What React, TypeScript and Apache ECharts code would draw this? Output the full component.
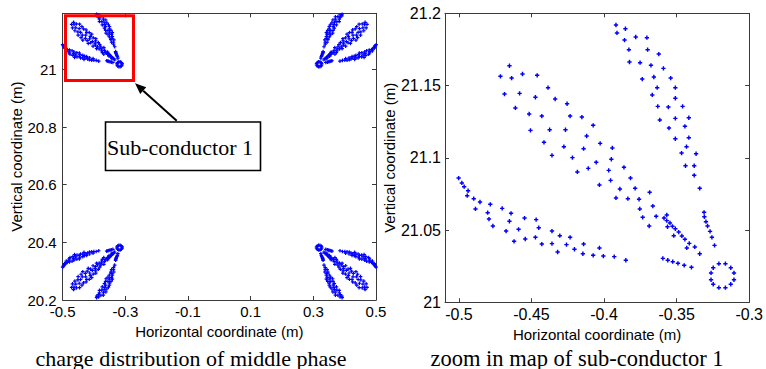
import React, { useEffect, useRef } from "react";
import * as echarts from "echarts";

// ---- data: charge points of sub-conductor 1 (m) ----
const petalTop: [number, number][] = [
  [-0.3918, 21.1919], [-0.3853, 21.1893], [-0.3911, 21.1864], [-0.3859, 21.1815], [-0.3782, 21.1836],
  [-0.3705, 21.1831], [-0.3829, 21.1748], [-0.37, 21.1748], [-0.3623, 21.1718], [-0.3825, 21.1663],
  [-0.3752, 21.1658], [-0.3677, 21.164], [-0.3591, 21.1619], [-0.3737, 21.1545], [-0.3657, 21.1559],
  [-0.3541, 21.1552], [-0.3634, 21.1485], [-0.3509, 21.1485], [-0.3668, 21.1435], [-0.3509, 21.1412],
  [-0.363, 21.1356], [-0.3557, 21.1351], [-0.3459, 21.1356], [-0.3616, 21.1262], [-0.3509, 21.1273],
  [-0.3416, 21.1277], [-0.3553, 21.1206], [-0.3443, 21.1218], [-0.3509, 21.1132], [-0.3416, 21.1139],
  [-0.3432, 21.1077], [-0.3466, 21.1033], [-0.3366, 21.1028], [-0.3439, 21.0945], [-0.3379, 21.0945],
  [-0.3379, 21.0879], [-0.3341, 21.0789],
];
const petalMiddle: [number, number][] = [
  [-0.4652, 21.1637], [-0.4714, 21.1564], [-0.4637, 21.1552], [-0.4562, 21.158], [-0.4461, 21.1571],
  [-0.4686, 21.1441], [-0.4582, 21.1446], [-0.4473, 21.1419], [-0.4386, 21.1485], [-0.4337, 21.1407],
  [-0.4255, 21.1374], [-0.4611, 21.1345], [-0.4516, 21.1303], [-0.4429, 21.1289], [-0.4234, 21.1289],
  [-0.4153, 21.1282], [-0.4075, 21.1225], [-0.4507, 21.119], [-0.4375, 21.1194], [-0.4266, 21.1194],
  [-0.412, 21.1151], [-0.4027, 21.11], [-0.4414, 21.1107], [-0.4277, 21.1077], [-0.4141, 21.1063],
  [-0.4359, 21.1017], [-0.4218, 21.1001], [-0.4054, 21.0969], [-0.3943, 21.1068], [-0.395, 21.099],
  [-0.4109, 21.0927], [-0.4184, 21.0902], [-0.4032, 21.0812], [-0.3968, 21.0913], [-0.3863, 21.0934],
  [-0.3955, 21.0844], [-0.3818, 21.086], [-0.3891, 21.0784], [-0.3786, 21.0789], [-0.3918, 21.0722],
  [-0.3836, 21.0717], [-0.3759, 21.0713], [-0.3686, 21.0761], [-0.3754, 21.0646], [-0.3664, 21.0666],
  [-0.3734, 21.0588], [-0.3641, 21.0595], [-0.3689, 21.0528],
];
const petalInner: [number, number][] = [
  [-0.3568, 21.0604], [-0.3587, 21.0583], [-0.3568, 21.0565], [-0.3563, 21.0523], [-0.3546, 21.0549],
  [-0.3529, 21.0526], [-0.3509, 21.0509], [-0.3486, 21.0486], [-0.352, 21.0461], [-0.3464, 21.0459],
  [-0.3443, 21.0436], [-0.3413, 21.0408], [-0.343, 21.0376], [-0.3375, 21.0383], [-0.3341, 21.0336],
];
const petalSmall: [number, number][] = [
  [-0.3311, 21.0623], [-0.3309, 21.0592], [-0.3298, 21.0558], [-0.3287, 21.0528], [-0.327, 21.0491],
  [-0.3257, 21.045], [-0.3239, 21.0394],
];
const petalLower: [number, number][] = [
  [-0.5002, 21.086], [-0.498, 21.0826], [-0.4964, 21.08], [-0.4937, 21.0772], [-0.4943, 21.0738],
  [-0.4898, 21.0717], [-0.4855, 21.0694], [-0.4886, 21.0646], [-0.4784, 21.0678], [-0.4802, 21.062],
  [-0.4793, 21.0576], [-0.4766, 21.0528], [-0.4702, 21.065], [-0.4641, 21.0616], [-0.4652, 21.0561],
  [-0.4675, 21.0493], [-0.4589, 21.0505], [-0.462, 21.0422], [-0.4548, 21.0583], [-0.4543, 21.0438],
  [-0.4468, 21.0572], [-0.445, 21.0516], [-0.4473, 21.045], [-0.4359, 21.0493], [-0.4429, 21.0403],
  [-0.4359, 21.0406], [-0.4305, 21.0461], [-0.432, 21.0348], [-0.4234, 21.045], [-0.4259, 21.0399],
  [-0.4141, 21.0403], [-0.4204, 21.0367], [-0.4032, 21.0376], [-0.4146, 21.0336], [-0.4075, 21.0325],
  [-0.4005, 21.032], [-0.393, 21.0316], [-0.385, 21.0291],
];
const bottomRow: [number, number][] = [
  [-0.3595, 21.0304], [-0.3561, 21.0291], [-0.3527, 21.0281], [-0.3491, 21.027], [-0.3448, 21.0256],
  [-0.3398, 21.0242],
];
const conductorRing: [number, number][] = [
  [-0.3209, 21.0267], [-0.3164, 21.0267], [-0.3127, 21.0239], [-0.3105, 21.0203], [-0.3105, 21.0156],
  [-0.3127, 21.0125], [-0.3164, 21.0101], [-0.3209, 21.0101], [-0.3248, 21.0125], [-0.3263, 21.0156],
  [-0.3263, 21.0203], [-0.3248, 21.0239],
];

// symmetry of the 4-bundle of the middle phase (bundle centre)
const bundleCentreX = 0;
const bundleCentreY = 20.7;

// ticks
const leftXTicks = [-0.5, -0.3, -0.1, 0.1, 0.3, 0.5];
const leftYTicks = [20.2, 20.4, 20.6, 20.8, 21];
const rightXTicks = [-0.5, -0.45, -0.4, -0.35, -0.3];
const rightYTicks = [21, 21.05, 21.1, 21.15, 21.2];

const captionLeft = "charge distribution of middle phase";
const captionRight = "zoom in map of sub-conductor 1";
const boxLabel = "Sub-conductor 1";
const xName = "Horizontal coordinate (m)";
const yName = "Vertical coordinate (m)";

const sub1 = [
  ...petalTop, ...petalMiddle, ...petalInner, ...petalSmall, ...petalLower, ...bottomRow, ...conductorRing,
];
const mirrorX = (p: [number, number]) => [2 * bundleCentreX - p[0], p[1]];
const mirrorY = (p: [number, number]) => [p[0], 2 * bundleCentreY - p[1]];
const allSub = [
  ...sub1,
  ...sub1.map(mirrorX),
  ...sub1.map(mirrorY),
  ...sub1.map((p) => mirrorY(mirrorX(p) as [number, number])),
];

const BLUE = "#0000ff";
const AX = "#3a3a3a";
const SANS = "Liberation Sans, Arial, sans-serif";
const SERIF = "Liberation Serif, 'Times New Roman', serif";
const PLUS = "path://M2 0h2v2h2v2h-2v2h-2v-2h-2v-2h2z";

function axisPair(
  kind: "x" | "y",
  gridIndex: number,
  min: number,
  max: number,
  ticks: number[],
  fontSize: number,
  margin: number,
  name: string,
  nameGap: number
) {
  const base = {
    type: "value" as const,
    gridIndex,
    min,
    max,
    scale: true,
    axisLine: { show: true, onZero: false, lineStyle: { color: AX, width: 1 } },
    axisTick: { show: true, inside: true, length: 4, customValues: ticks, lineStyle: { color: AX } },
    splitLine: { show: false },
  };
  const main = {
    ...base,
    position: kind === "x" ? "bottom" : "left",
    name,
    nameLocation: "middle",
    nameGap,
    nameTextStyle: { fontFamily: SANS, fontSize: 15, color: "#000" },
    axisLabel: {
      show: true,
      customValues: ticks,
      margin,
      fontFamily: SANS,
      fontSize,
      color: "#000",
      formatter: (v: number) => String(+v.toFixed(3)),
    },
  };
  const opp = {
    ...base,
    position: kind === "x" ? "top" : "right",
    axisLabel: { show: false, customValues: ticks },
  };
  return [main, opp];
}

export default function App() {
  const ref = useRef<HTMLDivElement>(null);
  useEffect(() => {
    if (!ref.current) return;
    const chart = echarts.init(ref.current, undefined, { renderer: "svg" });
    const lx = axisPair("x", 0, -0.5, 0.5, leftXTicks, 15, 4, xName, 22);
    const ly = axisPair("y", 0, 20.2, 21.195, leftYTicks, 15, 6, yName, 39);
    const rx = axisPair("x", 1, -0.5096, -0.3, rightXTicks, 16, 4, xName, 21);
    const ry = axisPair("y", 1, 21, 21.2, rightYTicks, 16, 4, yName, 43);
    chart.setOption({
      animation: false,
      backgroundColor: "#fff",
      grid: [
        { left: 62.7, top: 13.3, width: 313.3, height: 286.7, containLabel: false },
        { left: 445, top: 13.3, width: 307.3, height: 289, containLabel: false },
      ],
      xAxis: [...lx, ...rx],
      yAxis: [...ly, ...ry],
      series: [
        {
          type: "scatter",
          xAxisIndex: 0,
          yAxisIndex: 0,
          data: allSub,
          symbol: PLUS,
          symbolSize: 3.6,
          itemStyle: { color: BLUE, opacity: 1 },
          silent: true,
          z: 3,
        },
        {
          type: "scatter",
          xAxisIndex: 2,
          yAxisIndex: 2,
          data: sub1,
          symbol: PLUS,
          symbolSize: 4.3,
          itemStyle: { color: BLUE, opacity: 1 },
          silent: true,
        },
      ],
      graphic: [
        {
          type: "rect",
          shape: { x: 65.5, y: 15.8, width: 68, height: 64.7 },
          style: { fill: "none", stroke: "#ff0000", lineWidth: 3 },
          z: 10,
        },
        {
          type: "line",
          shape: { x1: 176.7, y1: 120.7, x2: 143.2, y2: 90.65 },
          style: { stroke: "#000", lineWidth: 2 },
          z: 10,
        },
        {
          type: "polygon",
          shape: { points: [[135, 83.3], [146.2, 87.3], [140.2, 94.0]] },
          style: { fill: "#000" },
          z: 10,
        },
        {
          type: "rect",
          shape: { x: 105.5, y: 122, width: 155, height: 48.5 },
          style: { fill: "#fff", stroke: "#000", lineWidth: 1.6 },
          z: 10,
        },
        {
          type: "text",
          x: 180,
          y: 147,
          style: {
            text: boxLabel,
            font: `22px ${SERIF}`,
            fill: "#000",
            textAlign: "center",
            textVerticalAlign: "middle",
          },
          z: 11,
        },
        {
          type: "text",
          x: 191,
          y: 358,
          style: {
            text: captionLeft,
            font: `22px ${SERIF}`,
            fill: "#000",
            textAlign: "center",
            textVerticalAlign: "middle",
          },
        },
        {
          type: "text",
          x: 577,
          y: 358,
          style: {
            text: captionRight,
            font: `22.5px ${SERIF}`,
            fill: "#000",
            textAlign: "center",
            textVerticalAlign: "middle",
          },
        },
      ],
    });
    return () => chart.dispose();
  }, []);
  return (
    <div
      ref={ref}
      style={{ position: "fixed", left: 0, top: 0, width: 766, height: 369, background: "#fff" }}
    />
  );
}
